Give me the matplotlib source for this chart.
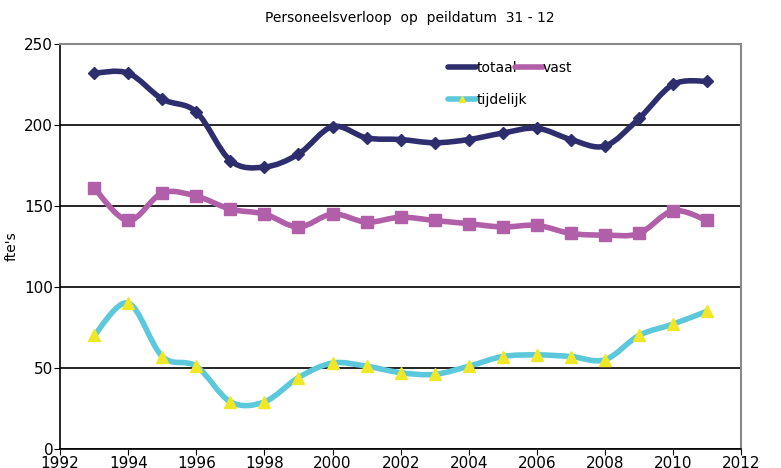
import numpy as np
import matplotlib
matplotlib.use("Agg")
import matplotlib.pyplot as plt
from matplotlib.path import Path
from matplotlib.patches import PathPatch
from matplotlib.lines import Line2D

years = list(range(1993, 2012))
totaal = [232, 232, 216, 208, 178, 174, 182, 199, 192, 191, 189, 191, 195, 198, 191, 187, 204, 225, 227]
vast = [161, 141, 158, 156, 148, 145, 137, 145, 140, 143, 141, 139, 137, 138, 133, 132, 133, 147, 141]
tijdelijk = [70, 90, 57, 51, 29, 29, 44, 53, 51, 47, 46, 51, 57, 58, 57, 55, 70, 77, 85]

c_tot = "#2E2D6E"
c_vast = "#B05FA8"
c_tijd = "#5CC8DB"
c_tri = "#F0E826"


def smooth_path(x, y):
    # Bezier segments like a spreadsheet "smoothed line"
    p = np.column_stack([x, y]).astype(float)
    ext = np.vstack([p[0], p, p[-1]])
    verts = [p[0]]
    codes = [Path.MOVETO]
    for i in range(len(p) - 1):
        p0, p1, p2, p3 = ext[i], ext[i + 1], ext[i + 2], ext[i + 3]
        verts += [p1 + (p2 - p0) / 6, p2 - (p3 - p1) / 6, p2]
        codes += [Path.CURVE4] * 3
    return Path(verts, codes)


fig = plt.figure(figsize=(7.81, 4.68), dpi=100)
ax = fig.add_axes([0.077, 0.041, 0.872, 0.865])

for ys, col in [(totaal, c_tot), (vast, c_vast), (tijdelijk, c_tijd)]:
    ax.add_patch(PathPatch(smooth_path(years, ys), fill=False, edgecolor=col,
                           lw=4, capstyle="round", joinstyle="round", zorder=3))

ax.plot(years, totaal, ls="none", marker="D", ms=6, color=c_tot, zorder=4)
ax.plot(years, vast, ls="none", marker="s", ms=8, color=c_vast, zorder=4)
ax.plot(years, tijdelijk, ls="none", marker="^", ms=9, color=c_tri, zorder=4)

ax.set_xlim(1992, 2012)
ax.set_ylim(0, 250)
ax.set_xticks(range(1992, 2013, 2))
ax.set_yticks(range(0, 251, 50))
ax.grid(axis="y", color="black", lw=1.2)
ax.set_axisbelow(True)
ax.tick_params(labelsize=11, length=4, direction="out", pad=1)
for s in ["left", "bottom"]:
    ax.spines[s].set_color("black")
    ax.spines[s].set_linewidth(1.2)
for s in ["top", "right"]:
    ax.spines[s].set_color("#888888")
    ax.spines[s].set_linewidth(1.5)

ax.set_ylabel("fte's", fontsize=10, labelpad=4)
fig.text(0.525, 0.962, "Personeelsverloop  op  peildatum  31 - 12", ha="center",
         va="center", fontsize=10)

handles = [
    Line2D([], [], color=c_tot, lw=4, solid_capstyle="round"),
    Line2D([], [], color=c_tijd, lw=4, marker="^", ms=5, mfc=c_tri, mec=c_tri,
           solid_capstyle="round"),
    Line2D([], [], color=c_vast, lw=4, solid_capstyle="round"),
]
ax.legend(handles, ["totaal", "tijdelijk", "vast"], ncol=2, frameon=False,
          loc="upper left", bbox_to_anchor=(0.56, 0.975), fontsize=10,
          handlelength=2.0, handletextpad=0.0, columnspacing=-0.85,
          labelspacing=1.3, borderpad=0)

fig.savefig("out.png", dpi=100)
